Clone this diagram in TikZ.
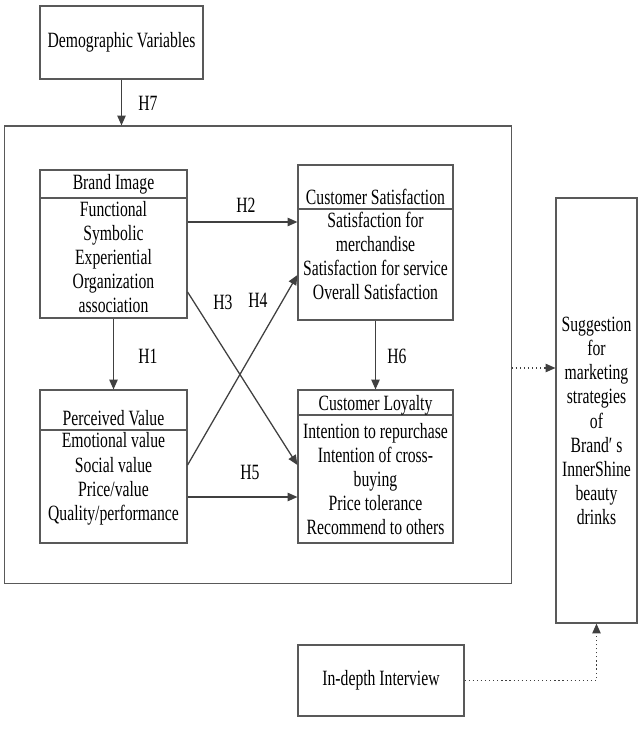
\documentclass[tikz,border=0pt]{standalone}
\usepackage{fontspec}
\setmainfont[FakeStretch=0.72]{Liberation Serif}
\usepackage{tikz}
\usetikzlibrary{arrows.meta}

\tikzset{
  box/.style={draw=black!65, line width=0.8pt, fill=white},
  txt/.style={align=center, inner sep=0pt, font=\fontsize{15.5}{17.2}\selectfont},
  lab/.style={inner sep=0pt, font=\fontsize{15.5}{17.2}\selectfont},
  link/.style={draw=black!75, line width=0.9pt, -{Triangle[length=7pt,width=6pt]}},
  dotlink/.style={draw=black!75, line width=0.9pt, dotted, -{Triangle[length=7pt,width=6pt]}}
}

\begin{document}
\begin{tikzpicture}[x=0.025cm,y=-0.025cm]
	\useasboundingbox (0,0) rectangle (642,741);

	% outer frame and boxes
	\node[box, minimum width=12.65cm, minimum height=11.425cm] (frame) at (258,354.5) {};
	\node[box, minimum width=4.075cm, minimum height=1.825cm] (demo) at (121.5,42.5) {};
	\node[box, minimum width=3.675cm, minimum height=3.7cm] (brand) at (113.5,244) {};
	\node[box, minimum width=3.875cm, minimum height=3.875cm] (satis) at (375.5,242.5) {};
	\node[box, minimum width=3.675cm, minimum height=3.825cm] (value) at (113.5,466.5) {};
	\node[box, minimum width=3.875cm, minimum height=3.825cm] (loyal) at (375.5,466.5) {};
	\node[box, minimum width=2.025cm, minimum height=10.625cm] (sugg) at (596.5,410.5) {};
	\node[box, minimum width=4.15cm, minimum height=1.775cm] (interv) at (381,680.5) {};

	% header lines
	\draw[black!65, line width=0.8pt] (40,198) -- (187,198);
	\draw[black!65, line width=0.8pt] (298,209) -- (453,209);
	\draw[black!65, line width=0.8pt] (40,430) -- (187,430);
	\draw[black!65, line width=0.8pt] (298,415) -- (453,415);

	% texts
	\node[txt] (demotxt) at (121.5,42.5) {Demographic Variables};
	\node[txt] (brandhead) at (113.5,184) {Brand Image};
	\node[txt] (brandtxt) at (113.5,257) {Functional\\Symbolic\\Experiential\\Organization\\association};
	\node[txt] (satishead) at (375.5,197) {Customer Satisfaction};
	\node[txt] (satistxt) at (375.5,256) {Satisfaction for\\merchandise\\Satisfaction for service\\Overall Satisfaction};
	\node[txt] (valuehead) at (113.5,418) {Perceived Value};
	\node[txt] (valuetxt) at (113.5,479) {Emotional value\\Social value\\Price/value\\Quality/performance};
	\node[txt] (loyalhead) at (375.5,405) {Customer Loyalty};
	\node[txt] (loyaltxt) at (375.5,479) {Intention to repurchase\\Intention of cross-\\buying\\Price tolerance\\Recommend to others};
	\node[txt] (suggtxt) at (596.5,421) {Suggestion\\for\\marketing\\strategies\\of\\Brand′\ s\\InnerShine\\beauty\\drinks};
	\node[txt] (intervtxt) at (381,680.5) {In-depth Interview};

	% hypotheses
	\draw[link] (demo.south) -- (demo.south |- frame.north);
	\draw[link] (brand.south) -- (value.north);
	\draw[link] (satis.south) -- (loyal.north);
	\draw[link] (brand.east |- 0,222) -- (satis.west |- 0,222);
	\draw[link] (brand.east |- 0,292) -- (loyal.west |- 0,465);
	\draw[link] (value.east |- 0,465) -- (satis.west |- 0,275);
	\draw[link] (value.east |- 0,497) -- (loyal.west |- 0,497);
	\node[lab] (h7) at (148,103) {H7};
	\node[lab] (h1) at (148,356) {H1};
	\node[lab] (h2) at (246,205) {H2};
	\node[lab] (h3) at (223,302) {H3};
	\node[lab] (h4) at (258,300) {H4};
	\node[lab] (h5) at (250,472) {H5};
	\node[lab] (h6) at (397,356) {H6};

	% dotted links
	\draw[dotlink] (frame.east |- 0,368) -- (sugg.west |- 0,368);
	\draw[dotlink] (interv.east) -| (sugg.south);
\end{tikzpicture}
\end{document}
